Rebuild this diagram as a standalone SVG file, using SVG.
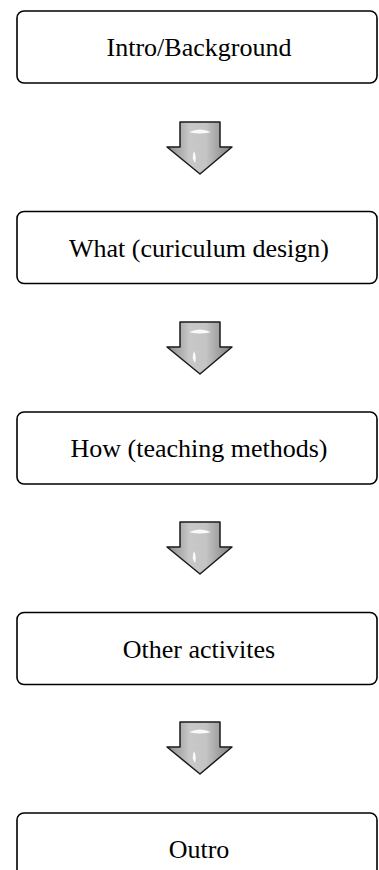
<svg xmlns="http://www.w3.org/2000/svg" width="379" height="870" viewBox="0 0 379 870">
<defs>
<style>
.box{fill:#fff;stroke:#000;stroke-width:1.6}
.lbl{font-family:"Liberation Serif","Times New Roman",serif;font-size:26px;fill:#000;text-anchor:middle}
.arr{fill:url(#g);stroke:#1a1a1a;stroke-width:1.5;stroke-linejoin:round}
.hl{fill:#fff;opacity:0.9}
</style>
<linearGradient id="g" x1="0" y1="0" x2="1" y2="0">
<stop offset="0" stop-color="#8a8a8a"/>
<stop offset="0.35" stop-color="#c8c8c8"/>
<stop offset="0.6" stop-color="#c4c4c4"/>
<stop offset="1" stop-color="#7e7e7e"/>
</linearGradient>
<g id="arrowShape">
<path class="arr" d="M180,0 H220 V25 H232 L200,52 L167,25 H180 Z"/>
<path class="hl" d="M189,10 Q200,5 211,10 Q200,13 189,10 Z"/>
<path class="hl" d="M194,29 Q197,35 195,41 Q191,36 194,29 Z"/>
</g>
</defs>
<g id="connectors">
<use href="#arrowShape" y="122"/>
<use href="#arrowShape" y="322"/>
<use href="#arrowShape" y="522"/>
<use href="#arrowShape" y="722"/>
</g>
<g id="n1"><rect class="box" x="17" y="11" width="360" height="72" rx="7"/><text class="lbl" x="199" y="56">Intro/Background</text></g>
<g id="n2"><rect class="box" x="17" y="211.5" width="360" height="72" rx="7"/><text class="lbl" x="199" y="256.5">What (curiculum design)</text></g>
<g id="n3"><rect class="box" x="17" y="412" width="360" height="72" rx="7"/><text class="lbl" x="199" y="457">How (teaching methods)</text></g>
<g id="n4"><rect class="box" x="17" y="612.5" width="360" height="72" rx="7"/><text class="lbl" x="199" y="657.5">Other activites</text></g>
<g id="n5"><rect class="box" x="17" y="813" width="360" height="72" rx="7"/><text class="lbl" x="199" y="858">Outro</text></g>
</svg>
